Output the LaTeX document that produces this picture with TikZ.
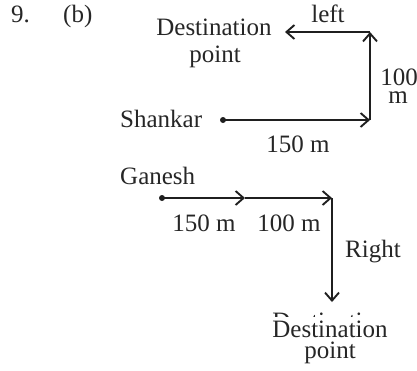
\documentclass[tikz,border=0pt]{standalone}
\usepackage{fontspec}
\setmainfont{Liberation Serif}
\usetikzlibrary{arrows.meta}
\begin{document}
\begin{tikzpicture}[x=1pt,y=-1pt,
  txt/.style={inner sep=0pt, text=black!85, font=\fontsize{25}{28}\selectfont},
  path/.style={line width=1.9pt, draw=black!88},
  tip/.style={-{Straight Barb[length=8pt,width=14pt,line width=1.9pt]}}]
\useasboundingbox (0,0) rectangle (417,370);
% header
\node[txt,anchor=base west] (nine) at (11,22) {9.};
\node[txt,anchor=base west] (b) at (63,22) {(b)};
% Shankar
\node[txt,anchor=base] (dest1) at (214,35) {Destination};
\node[txt,anchor=base] (pt1) at (215,62) {point};
\node[txt,anchor=base] (left) at (328,22) {left};
\node[txt,anchor=base] (h100) at (399,85) {100};
\node[txt,anchor=base] (m1) at (398,103) {m};
\node[txt,anchor=base west] (shankar) at (120,127) {Shankar};
\node[txt,anchor=base] (l150a) at (298,152) {150 m};
\coordinate (s) at (223,120);
\coordinate (c1) at (370,120);
\coordinate (c2) at (370,32);
\coordinate (e1) at (285,32);
\draw[path,tip] (s) -- (c1);
\draw[path,tip] (c1) -- (c2);
\draw[path,tip] (c2) -- (e1);
\fill[black!88] (s) circle (3);
% Ganesh
\node[txt,anchor=base west] (ganesh) at (120,184) {Ganesh};
\coordinate (g) at (162,198);
\coordinate (gm) at (245,198);
\coordinate (gc) at (332,198);
\coordinate (gd) at (332,302);
\draw[path,tip] (g) -- (gm);
\draw[path,tip] (gm) -- (gc);
\draw[path,tip] (gc) -- (gd);
\fill[black!88] (g) circle (3);
\node[txt,anchor=base] (l150b) at (204,231) {150 m};
\node[txt,anchor=base] (l100b) at (289,231) {100 m};
\node[txt,anchor=base west] (right) at (345,257) {Right};
\begin{scope}
\clip (0,0) rectangle (417,316);
\node[txt,anchor=base] (ghost) at (330,329) {Destination};
\end{scope}
\node[txt,anchor=base] (dest2) at (330,337) {Destination};
\node[txt,anchor=base] (pt2) at (330,358) {point};
\end{tikzpicture}
\end{document}
